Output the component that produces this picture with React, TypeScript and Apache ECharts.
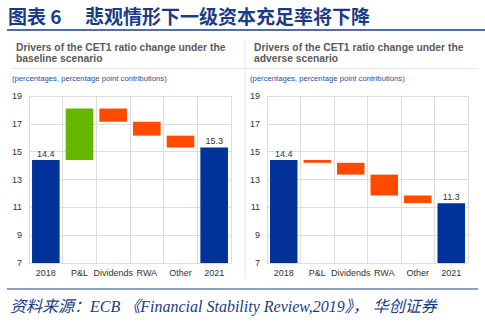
import React, { useEffect, useRef } from "react";
import * as echarts from "echarts";

const categories = ["2018", "P&L", "Dividends", "RWA", "Other", "2021"];
const baselineStart = 14.4;
const baselineChanges = [3.7, -0.95, -1.0, -0.85];
const baselineEnd = 15.3;
const adverseStart = 14.4;
const adverseChanges = [-0.2, -0.85, -1.5, -0.55];
const adverseEnd = 11.3;
const yTicks = { min: 7, max: 19, interval: 2 };

const BLUE = "#003299";
const GREEN = "#65B800";
const ORANGE = "#FF4B00";

function buildWaterfall(start: number, changes: number[], end: number) {
  const base: number[] = [0];
  const vis: any[] = [];
  vis.push({ value: start, itemStyle: { color: BLUE }, label: { show: true } });
  let cur = start;
  changes.forEach((c) => {
    const next = cur + c;
    base.push(Math.min(cur, next));
    vis.push({ value: Math.abs(c), itemStyle: { color: c >= 0 ? GREEN : ORANGE }, label: { show: false } });
    cur = next;
  });
  base.push(0);
  vis.push({ value: end, itemStyle: { color: BLUE }, label: { show: true } });
  return { base, vis };
}

export default function App() {
  const ref = useRef<HTMLDivElement>(null);
  useEffect(() => {
    const chart = echarts.init(ref.current!, null, { renderer: "svg" });
    const left = buildWaterfall(baselineStart, baselineChanges, baselineEnd);
    const right = buildWaterfall(adverseStart, adverseChanges, adverseEnd);
    const gridLine = "#DCDCDC";
    const mkX = (gi: number) => ({
      type: "category",
      gridIndex: gi,
      data: categories,
      axisLine: { show: true, lineStyle: { color: gridLine } },
      axisTick: { show: false },
      splitLine: { show: true, lineStyle: { color: gridLine } },
      axisLabel: { fontSize: 9, color: "#333", margin: 5, fontFamily: "Liberation Sans, Arial", interval: 0 },
    });
    const mkY = (gi: number) => ({
      type: "value",
      gridIndex: gi,
      min: yTicks.min,
      max: yTicks.max,
      interval: yTicks.interval,
      axisLine: { show: false },
      axisTick: { show: false },
      splitLine: { show: true, lineStyle: { color: gridLine } },
      axisLabel: { fontSize: 9, color: "#333", margin: 7, fontFamily: "Liberation Sans, Arial" },
    });
    const mkSeries = (gi: number, w: { base: number[]; vis: any[] }) => [
      {
        type: "bar",
        xAxisIndex: gi,
        yAxisIndex: gi,
        stack: "s" + gi,
        data: w.base,
        itemStyle: { color: "transparent" },
        barCategoryGap: "18%",
        silent: true,
      },
      {
        type: "bar",
        xAxisIndex: gi,
        yAxisIndex: gi,
        stack: "s" + gi,
        data: w.vis,
        barCategoryGap: "18%",
        label: {
          position: "top",
          fontSize: 9,
          color: "#333",
          distance: 2,
          fontFamily: "Liberation Sans, Arial",
          formatter: (p: any) => Number(p.value).toFixed(1),
        },
      },
    ];
    const textFont = "Liberation Sans, Arial, sans-serif";
    chart.setOption({
      animation: false,
      backgroundColor: "#fff",
      grid: [
        { left: 29, top: 96, width: 202, height: 167 },
        { left: 267, top: 96, width: 201, height: 167 },
      ],
      xAxis: [mkX(0), mkX(1)],
      yAxis: [mkY(0), mkY(1)],
      series: [...mkSeries(0, left), ...mkSeries(1, right)],
      graphic: [
        { type: "text", x: 8, y: 6, style: { text: "图表 6", font: "bold 19px 'Noto Sans CJK SC'", fill: "#1A3C86" } },
        { type: "text", x: 85, y: 6, style: { text: "悲观情形下一级资本充足率将下降", font: "bold 19px 'Noto Sans CJK SC'", fill: "#1A3C86" } },
        { type: "line", shape: { x1: 7, y1: 30, x2: 485, y2: 30 }, style: { stroke: "#1A3C86", lineWidth: 1.5 } },
        { type: "line", shape: { x1: 245, y1: 39, x2: 245, y2: 279 }, style: { stroke: "#E4E4E4", lineWidth: 1 } },
        { type: "line", shape: { x1: 12, y1: 68.5, x2: 478, y2: 68.5 }, style: { stroke: "#E4E4E4", lineWidth: 1 } },
        { type: "text", x: 16, y: 42, style: { text: "Drivers of the CET1 ratio change under the\nbaseline scenario", font: `bold 10.3px ${textFont}`, fill: "#5A5A5A", lineHeight: 11 } },
        { type: "text", x: 254, y: 42, style: { text: "Drivers of the CET1 ratio change under the\nadverse scenario", font: `bold 10.3px ${textFont}`, fill: "#5A5A5A", lineHeight: 11 } },
        { type: "text", x: 12, y: 74.5, style: { text: "(percentages, percentage point contributions)", font: `7.7px ${textFont}`, fill: "#2A4C9C" } },
        { type: "text", x: 250, y: 74.5, style: { text: "(percentages, percentage point contributions)", font: `7.7px ${textFont}`, fill: "#2A4C9C" } },
        { type: "line", shape: { x1: 7, y1: 289, x2: 478, y2: 289 }, style: { stroke: "#1A3C86", lineWidth: 1 } },
        { type: "text", x: 10, y: 298, style: { text: "资料来源：ECB 《Financial Stability Review,2019》， 华创证券", font: "italic 16px 'Liberation Serif', 'Noto Sans CJK SC'", fill: "#1A3C86" } },
      ],
    });
    return () => chart.dispose();
  }, []);
  return <div ref={ref} style={{ position: "fixed", left: 0, top: 0, width: 485, height: 324 }} />;
}
